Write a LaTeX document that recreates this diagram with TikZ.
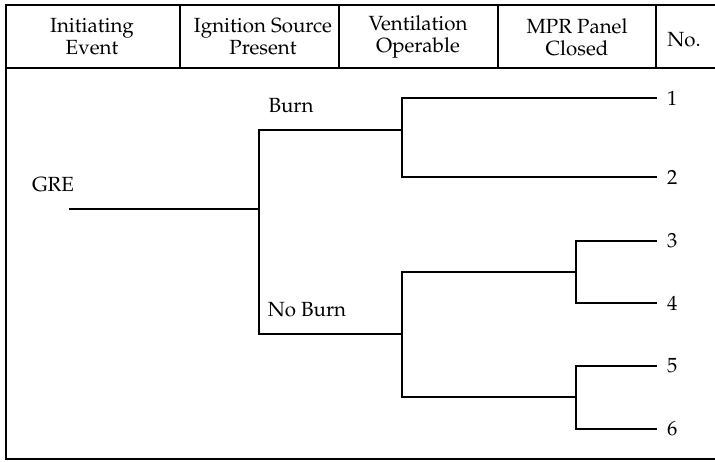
\documentclass[tikz,border=0pt]{standalone}
\usepackage[T1]{fontenc}
\usepackage{mathpazo}
\begin{document}
\begin{tikzpicture}[x=1pt,y=-1pt,
  every node/.style={font=\fontsize{20.5}{22}\selectfont, inner sep=0pt},
  frame/.style={line width=1.9pt},
  branch/.style={line width=1.9pt},
  head/.style={align=center},
  lab/.style={},
  num/.style={anchor=west}]
\useasboundingbox (0,0) rectangle (715,461);
% frame
\draw[frame] (715,5) -- (6,5) -- (6,459) -- (715,459);
\draw[frame] (6,68) -- (715,68);
\foreach \x in {180,339,498,656} \draw[frame] (\x,5) -- (\x,68);
% header
\node[head] (h1) at (92,37) {Initiating\\Event};
\node[head] (h2) at (263,37) {Ignition Source\\Present};
\node[head] (h3) at (418,37) {Ventilation\\Operable};
\node[head] (h4) at (577,37) {MPR Panel\\Closed};
\node[head] (h5) at (684,40) {No.};
% labels
\node[lab] (gre) at (53,185) {GRE};
\node[lab] (burn) at (291,105) {Burn};
\node[lab] (noburn) at (307,310) {No Burn};
% tree coordinates
\coordinate (s) at (69,209);
\coordinate (b0) at (259,209);
\coordinate (v1) at (402,130);
\coordinate (v2) at (402,334);
\coordinate (m1) at (576,272);
\coordinate (m2) at (576,397);
\coordinate (e1) at (657,98);
\coordinate (e2) at (657,177);
\coordinate (e3) at (657,241);
\coordinate (e4) at (657,303);
\coordinate (e5) at (657,366);
\coordinate (e6) at (657,429);
\foreach \i in {1,...,6} \node[num] (n\i) at ([xshift=10pt]e\i) {\i};
% branches
\draw[branch] (s) -- (b0);
\draw[branch] (b0) |- (v1);
\draw[branch] (b0) |- (v2);
\draw[branch] (v1) |- (e1);
\draw[branch] (v1) |- (e2);
\draw[branch] (v2) |- (m1);
\draw[branch] (v2) |- (m2);
\draw[branch] (m1) |- (e3);
\draw[branch] (m1) |- (e4);
\draw[branch] (m2) |- (e5);
\draw[branch] (m2) |- (e6);
\end{tikzpicture}
\end{document}
